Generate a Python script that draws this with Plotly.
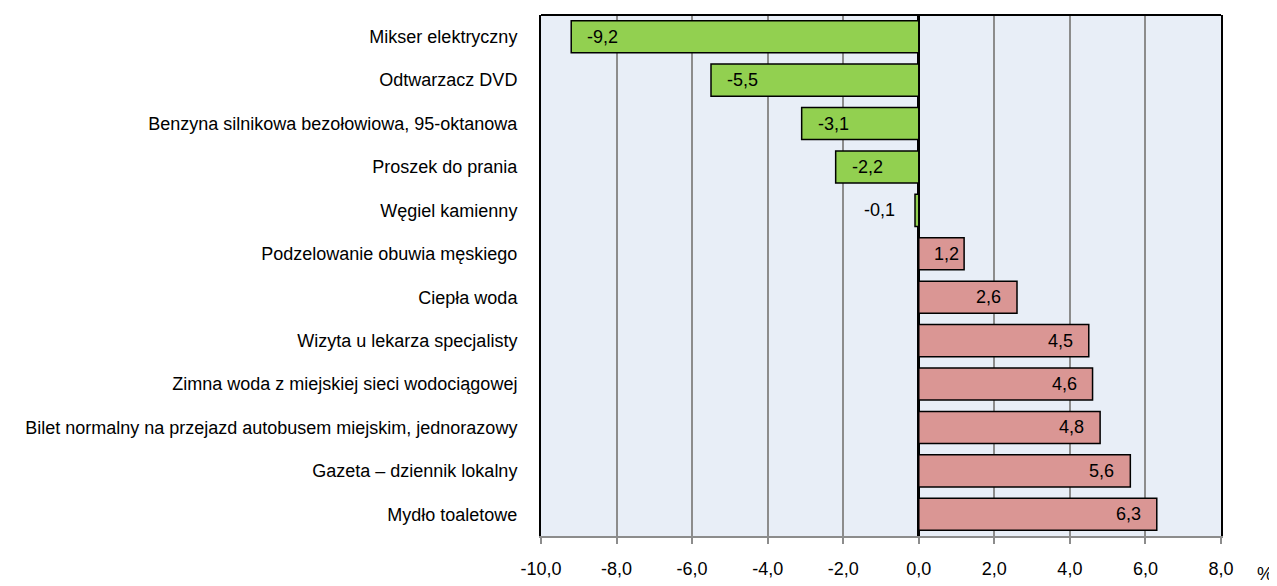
import plotly.graph_objects as go

categories = [
    "Mikser elektryczny",
    "Odtwarzacz DVD",
    "Benzyna silnikowa bezołowiowa, 95-oktanowa",
    "Proszek do prania",
    "Węgiel kamienny",
    "Podzelowanie obuwia męskiego",
    "Ciepła woda",
    "Wizyta u lekarza specjalisty",
    "Zimna woda z miejskiej sieci wodociągowej",
    "Bilet normalny na przejazd autobusem miejskim, jednorazowy",
    "Gazeta – dziennik lokalny",
    "Mydło toaletowe",
]
values = [-9.2, -5.5, -3.1, -2.2, -0.1, 1.2, 2.6, 4.5, 4.6, 4.8, 5.6, 6.3]
tick_vals = [-10, -8, -6, -4, -2, 0, 2, 4, 6, 8]
tick_text = ["-10,0", "-8,0", "-6,0", "-4,0", "-2,0", "0,0", "2,0", "4,0", "6,0", "8,0"]
unit_label = "%"

GREEN = "#92D050"
PINK = "#DA9694"
FONT = "Arial, Liberation Sans, sans-serif"
FS = 18
X_RANGE = [-10, 8]
PLOT_W = 680
PX_PER_UNIT = PLOT_W / (X_RANGE[1] - X_RANGE[0])

colors = [GREEN if v < 0 else PINK for v in values]

fig = go.Figure()
fig.add_trace(go.Bar(
    x=values, y=categories, orientation="h",
    marker=dict(color=colors, line=dict(color="black", width=1.5)),
    hoverinfo="skip",
))

def fmt(v):
    return f"{v:.1f}".replace(".", ",")

for cat, v in zip(categories, values):
    bar_px = abs(v) * PX_PER_UNIT
    text_w = 0.1 * FS * len(fmt(v).lstrip("-")) * 4.6
    if bar_px < text_w:
        # too short: label outside, beyond bar end
        anchor = "right" if v < 0 else "left"
        shift = -18 if v < 0 else 18
    else:
        pad = max(1, min(14, bar_px - 17 - text_w))
        anchor = "left" if v < 0 else "right"
        shift = pad if v < 0 else -pad
    fig.add_annotation(x=v, y=cat, xref="x", yref="y", text=fmt(v),
                       showarrow=False, xanchor=anchor, xshift=shift,
                       font=dict(family=FONT, size=FS, color="black"))

# plot area in page pixels: x 541..1221, y 15..543 (page has 8px body margin)
fig.add_annotation(x=(1265 - 541) / PLOT_W, y=(543 - 582) / 528, xref="paper", yref="paper",
                   text=unit_label, showarrow=False, xanchor="center", yanchor="middle",
                   font=dict(family=FONT, size=FS, color="black"))

fig.update_layout(
    width=1269, height=578,
    margin=dict(l=533, r=56, t=7, b=43),
    paper_bgcolor="white",
    plot_bgcolor="#E8EEF7",
    bargap=0.26,
    showlegend=False,
    font=dict(family=FONT, size=FS, color="black"),
    xaxis=dict(
        range=X_RANGE, tickvals=tick_vals, ticktext=tick_text,
        showgrid=True, gridcolor="#8C8C8C", gridwidth=1.5,
        zeroline=True, zerolinecolor="black", zerolinewidth=3,
        showline=True, linecolor="#8C8C8C", linewidth=1.5,
        ticks="outside", ticklen=6, tickcolor="#8C8C8C", tickwidth=1.5,
        ticklabelstandoff=10,
        tickfont=dict(family=FONT, size=FS, color="black"),
        fixedrange=True,
    ),
    yaxis=dict(
        autorange="reversed",
        showgrid=False, zeroline=False,
        showline=True, linecolor="black", linewidth=2, mirror=True,
        ticks="", ticklabelstandoff=18,
        tickfont=dict(family=FONT, size=FS, color="black"),
        fixedrange=True,
    ),
)

# top border
fig.add_shape(type="line", xref="paper", yref="paper", x0=0, x1=1, y0=1, y1=1,
              line=dict(color="black", width=2))

fig.write_html("out.html")
